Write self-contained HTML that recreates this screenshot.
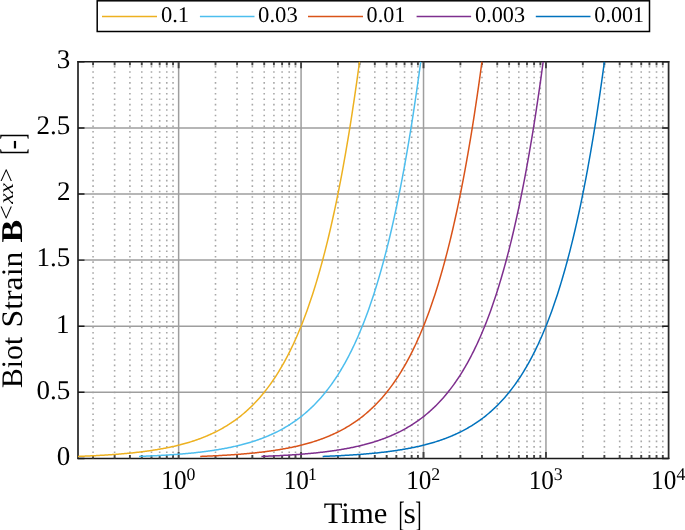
<!DOCTYPE html>
<html><head><meta charset="utf-8"><style>html,body{margin:0;padding:0;background:#fff;}svg{display:block;will-change:transform;}text{text-rendering:geometricPrecision;}</style></head>
<body><svg width="685" height="530" viewBox="0 0 685 530">
<rect x="0" y="0" width="685" height="530" fill="#fff"/>
<path d="M93.06 61.80V458.40M114.62 61.80V458.40M129.92 61.80V458.40M141.78 61.80V458.40M151.48 61.80V458.40M159.67 61.80V458.40M166.77 61.80V458.40M173.04 61.80V458.40M215.50 61.80V458.40M237.06 61.80V458.40M252.36 61.80V458.40M264.22 61.80V458.40M273.92 61.80V458.40M282.11 61.80V458.40M289.21 61.80V458.40M295.48 61.80V458.40M337.94 61.80V458.40M359.50 61.80V458.40M374.80 61.80V458.40M386.66 61.80V458.40M396.36 61.80V458.40M404.55 61.80V458.40M411.65 61.80V458.40M417.92 61.80V458.40M460.38 61.80V458.40M481.94 61.80V458.40M497.24 61.80V458.40M509.10 61.80V458.40M518.80 61.80V458.40M526.99 61.80V458.40M534.09 61.80V458.40M540.36 61.80V458.40M582.82 61.80V458.40M604.38 61.80V458.40M619.68 61.80V458.40M631.54 61.80V458.40M641.24 61.80V458.40M649.43 61.80V458.40M656.53 61.80V458.40M662.80 61.80V458.40" stroke="#a8a8a8" stroke-width="1.6" stroke-dasharray="1.6 3.832" stroke-dashoffset="-4.000" fill="none"/>
<path d="M178.64 61.80V458.40M301.08 61.80V458.40M423.52 61.80V458.40M545.96 61.80V458.40M78.00 392.30H668.60M78.00 326.20H668.60M78.00 260.10H668.60M78.00 194.00H668.60M78.00 127.90H668.60" stroke="#9e9e9e" stroke-width="1.5" fill="none"/>
<path d="M77.20 61.80H669.40M77.20 458.40H669.40" stroke="#1a1a1a" stroke-width="1.45" fill="none"/>
<path d="M78.00 61.10V459.10M668.60 61.10V459.10" stroke="#2a2a2a" stroke-width="1.75" fill="none"/>
<path d="M178.64 458.40v-6.5M178.64 61.80v6.5M301.08 458.40v-6.5M301.08 61.80v6.5M423.52 458.40v-6.5M423.52 61.80v6.5M545.96 458.40v-6.5M545.96 61.80v6.5M93.06 458.40v-3.4M93.06 61.80v3.4M114.62 458.40v-3.4M114.62 61.80v3.4M129.92 458.40v-3.4M129.92 61.80v3.4M141.78 458.40v-3.4M141.78 61.80v3.4M151.48 458.40v-3.4M151.48 61.80v3.4M159.67 458.40v-3.4M159.67 61.80v3.4M166.77 458.40v-3.4M166.77 61.80v3.4M173.04 458.40v-3.4M173.04 61.80v3.4M215.50 458.40v-3.4M215.50 61.80v3.4M237.06 458.40v-3.4M237.06 61.80v3.4M252.36 458.40v-3.4M252.36 61.80v3.4M264.22 458.40v-3.4M264.22 61.80v3.4M273.92 458.40v-3.4M273.92 61.80v3.4M282.11 458.40v-3.4M282.11 61.80v3.4M289.21 458.40v-3.4M289.21 61.80v3.4M295.48 458.40v-3.4M295.48 61.80v3.4M337.94 458.40v-3.4M337.94 61.80v3.4M359.50 458.40v-3.4M359.50 61.80v3.4M374.80 458.40v-3.4M374.80 61.80v3.4M386.66 458.40v-3.4M386.66 61.80v3.4M396.36 458.40v-3.4M396.36 61.80v3.4M404.55 458.40v-3.4M404.55 61.80v3.4M411.65 458.40v-3.4M411.65 61.80v3.4M417.92 458.40v-3.4M417.92 61.80v3.4M460.38 458.40v-3.4M460.38 61.80v3.4M481.94 458.40v-3.4M481.94 61.80v3.4M497.24 458.40v-3.4M497.24 61.80v3.4M509.10 458.40v-3.4M509.10 61.80v3.4M518.80 458.40v-3.4M518.80 61.80v3.4M526.99 458.40v-3.4M526.99 61.80v3.4M534.09 458.40v-3.4M534.09 61.80v3.4M540.36 458.40v-3.4M540.36 61.80v3.4M582.82 458.40v-3.4M582.82 61.80v3.4M604.38 458.40v-3.4M604.38 61.80v3.4M619.68 458.40v-3.4M619.68 61.80v3.4M631.54 458.40v-3.4M631.54 61.80v3.4M641.24 458.40v-3.4M641.24 61.80v3.4M649.43 458.40v-3.4M649.43 61.80v3.4M656.53 458.40v-3.4M656.53 61.80v3.4M662.80 458.40v-3.4M662.80 61.80v3.4" stroke="#444" stroke-width="1.9" fill="none"/>
<path d="M78.00 458.40h6.5M668.60 458.40h-6.5M78.00 392.30h6.5M668.60 392.30h-6.5M78.00 326.20h6.5M668.60 326.20h-6.5M78.00 260.10h6.5M668.60 260.10h-6.5M78.00 194.00h6.5M668.60 194.00h-6.5M78.00 127.90h6.5M668.60 127.90h-6.5M78.00 61.80h6.5M668.60 61.80h-6.5" stroke="#1a1a1a" stroke-width="1.45" fill="none"/>
<defs><clipPath id="c"><rect x="78.0" y="60.8" width="590.6" height="397.59999999999997"/></clipPath></defs>
<polyline clip-path="url(#c)" points="77.76,456.42 78.70,456.38 79.64,456.35 80.58,456.31 81.52,456.27 82.46,456.23 83.40,456.20 84.33,456.16 85.27,456.12 86.21,456.08 87.15,456.03 88.09,455.99 89.03,455.95 89.97,455.91 90.91,455.86 91.85,455.82 92.79,455.77 93.73,455.72 94.66,455.67 95.60,455.63 96.54,455.58 97.48,455.53 98.42,455.48 99.36,455.42 100.30,455.37 101.24,455.32 102.18,455.26 103.12,455.21 104.06,455.15 105.00,455.09 105.93,455.03 106.87,454.97 107.81,454.91 108.75,454.85 109.69,454.79 110.63,454.72 111.57,454.66 112.51,454.59 113.45,454.52 114.39,454.45 115.33,454.38 116.26,454.31 117.20,454.24 118.14,454.16 119.08,454.09 120.02,454.01 120.96,453.93 121.90,453.85 122.84,453.77 123.78,453.69 124.72,453.60 125.66,453.52 126.60,453.43 127.53,453.34 128.47,453.25 129.41,453.16 130.35,453.07 131.29,452.97 132.23,452.88 133.17,452.78 134.11,452.68 135.05,452.58 135.99,452.47 136.93,452.37 137.86,452.26 138.80,452.15 139.74,452.04 140.68,451.93 141.62,451.81 142.56,451.69 143.50,451.57 144.44,451.45 145.38,451.33 146.32,451.20 147.26,451.07 148.20,450.94 149.13,450.81 150.07,450.67 151.01,450.54 151.95,450.40 152.89,450.25 153.83,450.11 154.77,449.96 155.71,449.81 156.65,449.66 157.59,449.50 158.53,449.34 159.46,449.18 160.40,449.02 161.34,448.85 162.28,448.68 163.22,448.51 164.16,448.33 165.10,448.15 166.04,447.97 166.98,447.78 167.92,447.59 168.86,447.40 169.80,447.21 170.73,447.01 171.67,446.80 172.61,446.60 173.55,446.39 174.49,446.17 175.43,445.95 176.37,445.73 177.31,445.51 178.25,445.28 179.19,445.04 180.13,444.81 181.06,444.56 182.00,444.32 182.94,444.07 183.88,443.81 184.82,443.55 185.76,443.29 186.70,443.02 187.64,442.74 188.58,442.46 189.52,442.18 190.46,441.89 191.39,441.60 192.33,441.30 193.27,440.99 194.21,440.68 195.15,440.37 196.09,440.04 197.03,439.72 197.97,439.39 198.91,439.05 199.85,438.70 200.79,438.35 201.73,437.99 202.66,437.63 203.60,437.26 204.54,436.88 205.48,436.50 206.42,436.11 207.36,435.71 208.30,435.31 209.24,434.90 210.18,434.48 211.12,434.05 212.06,433.62 212.99,433.18 213.93,432.73 214.87,432.27 215.81,431.80 216.75,431.33 217.69,430.85 218.63,430.36 219.57,429.86 220.51,429.35 221.45,428.83 222.39,428.30 223.33,427.77 224.26,427.22 225.20,426.67 226.14,426.10 227.08,425.52 228.02,424.94 228.96,424.34 229.90,423.74 230.84,423.12 231.78,422.49 232.72,421.85 233.66,421.20 234.59,420.54 235.53,419.86 236.47,419.17 237.41,418.48 238.35,417.76 239.29,417.04 240.23,416.30 241.17,415.55 242.11,414.79 243.05,414.01 243.99,413.22 244.93,412.42 245.86,411.60 246.80,410.76 247.74,409.91 248.68,409.05 249.62,408.17 250.56,407.28 251.50,406.37 252.44,405.44 253.38,404.49 254.32,403.53 255.26,402.56 256.19,401.56 257.13,400.55 258.07,399.52 259.01,398.47 259.95,397.40 260.89,396.31 261.83,395.21 262.77,394.08 263.71,392.94 264.65,391.77 265.59,390.58 266.53,389.37 267.46,388.14 268.40,386.89 269.34,385.62 270.28,384.32 271.22,383.00 272.16,381.66 273.10,380.29 274.04,378.90 274.98,377.48 275.92,376.04 276.86,374.57 277.79,373.08 278.73,371.56 279.67,370.01 280.61,368.44 281.55,366.83 282.49,365.20 283.43,363.54 284.37,361.85 285.31,360.13 286.25,358.38 287.19,356.60 288.13,354.78 289.06,352.94 290.00,351.06 290.94,349.15 291.88,347.20 292.82,345.22 293.76,343.20 294.70,341.15 295.64,339.06 296.58,336.93 297.52,334.77 298.46,332.57 299.39,330.32 300.33,328.04 301.27,325.72 302.21,323.36 303.15,320.95 304.09,318.50 305.03,316.01 305.97,313.47 306.91,310.89 307.85,308.26 308.79,305.58 309.72,302.86 310.66,300.09 311.60,297.27 312.54,294.40 313.48,291.48 314.42,288.50 315.36,285.47 316.30,282.39 317.24,279.26 318.18,276.07 319.12,272.82 320.06,269.51 320.99,266.14 321.93,262.72 322.87,259.23 323.81,255.68 324.75,252.07 325.69,248.40 326.63,244.65 327.57,240.84 328.51,236.97 329.45,233.02 330.39,229.01 331.32,224.92 332.26,220.76 333.20,216.53 334.14,212.22 335.08,207.83 336.02,203.36 336.96,198.82 337.90,194.20 338.84,189.49 339.78,184.70 340.72,179.82 341.66,174.86 342.59,169.80 343.53,164.66 344.47,159.43 345.41,154.10 346.35,148.68 347.29,143.16 348.23,137.54 349.17,131.83 350.11,126.01 351.05,120.08 351.99,114.06 352.92,107.92 353.86,101.68 354.80,95.32 355.74,88.85 356.68,82.27 357.62,75.56 358.56,68.74 359.50,61.80" stroke="#EDB120" stroke-width="1.5" fill="none" stroke-linejoin="round"/>
<polyline clip-path="url(#c)" points="138.98,456.42 139.92,456.38 140.86,456.35 141.80,456.31 142.74,456.27 143.68,456.23 144.62,456.20 145.55,456.16 146.49,456.12 147.43,456.08 148.37,456.03 149.31,455.99 150.25,455.95 151.19,455.91 152.13,455.86 153.07,455.82 154.01,455.77 154.95,455.72 155.88,455.67 156.82,455.63 157.76,455.58 158.70,455.53 159.64,455.48 160.58,455.42 161.52,455.37 162.46,455.32 163.40,455.26 164.34,455.21 165.28,455.15 166.22,455.09 167.15,455.03 168.09,454.97 169.03,454.91 169.97,454.85 170.91,454.79 171.85,454.72 172.79,454.66 173.73,454.59 174.67,454.52 175.61,454.45 176.55,454.38 177.48,454.31 178.42,454.24 179.36,454.16 180.30,454.09 181.24,454.01 182.18,453.93 183.12,453.85 184.06,453.77 185.00,453.69 185.94,453.60 186.88,453.52 187.82,453.43 188.75,453.34 189.69,453.25 190.63,453.16 191.57,453.07 192.51,452.97 193.45,452.88 194.39,452.78 195.33,452.68 196.27,452.58 197.21,452.47 198.15,452.37 199.08,452.26 200.02,452.15 200.96,452.04 201.90,451.93 202.84,451.81 203.78,451.69 204.72,451.57 205.66,451.45 206.60,451.33 207.54,451.20 208.48,451.07 209.42,450.94 210.35,450.81 211.29,450.67 212.23,450.54 213.17,450.40 214.11,450.25 215.05,450.11 215.99,449.96 216.93,449.81 217.87,449.66 218.81,449.50 219.75,449.34 220.68,449.18 221.62,449.02 222.56,448.85 223.50,448.68 224.44,448.51 225.38,448.33 226.32,448.15 227.26,447.97 228.20,447.78 229.14,447.59 230.08,447.40 231.02,447.21 231.95,447.01 232.89,446.80 233.83,446.60 234.77,446.39 235.71,446.17 236.65,445.95 237.59,445.73 238.53,445.51 239.47,445.28 240.41,445.04 241.35,444.81 242.28,444.56 243.22,444.32 244.16,444.07 245.10,443.81 246.04,443.55 246.98,443.29 247.92,443.02 248.86,442.74 249.80,442.46 250.74,442.18 251.68,441.89 252.61,441.60 253.55,441.30 254.49,440.99 255.43,440.68 256.37,440.37 257.31,440.04 258.25,439.72 259.19,439.39 260.13,439.05 261.07,438.70 262.01,438.35 262.95,437.99 263.88,437.63 264.82,437.26 265.76,436.88 266.70,436.50 267.64,436.11 268.58,435.71 269.52,435.31 270.46,434.90 271.40,434.48 272.34,434.05 273.28,433.62 274.21,433.18 275.15,432.73 276.09,432.27 277.03,431.80 277.97,431.33 278.91,430.85 279.85,430.36 280.79,429.86 281.73,429.35 282.67,428.83 283.61,428.30 284.55,427.77 285.48,427.22 286.42,426.67 287.36,426.10 288.30,425.52 289.24,424.94 290.18,424.34 291.12,423.74 292.06,423.12 293.00,422.49 293.94,421.85 294.88,421.20 295.81,420.54 296.75,419.86 297.69,419.17 298.63,418.48 299.57,417.76 300.51,417.04 301.45,416.30 302.39,415.55 303.33,414.79 304.27,414.01 305.21,413.22 306.15,412.42 307.08,411.60 308.02,410.76 308.96,409.91 309.90,409.05 310.84,408.17 311.78,407.28 312.72,406.37 313.66,405.44 314.60,404.49 315.54,403.53 316.48,402.56 317.41,401.56 318.35,400.55 319.29,399.52 320.23,398.47 321.17,397.40 322.11,396.31 323.05,395.21 323.99,394.08 324.93,392.94 325.87,391.77 326.81,390.58 327.75,389.37 328.68,388.14 329.62,386.89 330.56,385.62 331.50,384.32 332.44,383.00 333.38,381.66 334.32,380.29 335.26,378.90 336.20,377.48 337.14,376.04 338.08,374.57 339.01,373.08 339.95,371.56 340.89,370.01 341.83,368.44 342.77,366.83 343.71,365.20 344.65,363.54 345.59,361.85 346.53,360.13 347.47,358.38 348.41,356.60 349.35,354.78 350.28,352.94 351.22,351.06 352.16,349.15 353.10,347.20 354.04,345.22 354.98,343.20 355.92,341.15 356.86,339.06 357.80,336.93 358.74,334.77 359.68,332.57 360.61,330.32 361.55,328.04 362.49,325.72 363.43,323.36 364.37,320.95 365.31,318.50 366.25,316.01 367.19,313.47 368.13,310.89 369.07,308.26 370.01,305.58 370.94,302.86 371.88,300.09 372.82,297.27 373.76,294.40 374.70,291.48 375.64,288.50 376.58,285.47 377.52,282.39 378.46,279.26 379.40,276.07 380.34,272.82 381.28,269.51 382.21,266.14 383.15,262.72 384.09,259.23 385.03,255.68 385.97,252.07 386.91,248.40 387.85,244.65 388.79,240.84 389.73,236.97 390.67,233.02 391.61,229.01 392.54,224.92 393.48,220.76 394.42,216.53 395.36,212.22 396.30,207.83 397.24,203.36 398.18,198.82 399.12,194.20 400.06,189.49 401.00,184.70 401.94,179.82 402.88,174.86 403.81,169.80 404.75,164.66 405.69,159.43 406.63,154.10 407.57,148.68 408.51,143.16 409.45,137.54 410.39,131.83 411.33,126.01 412.27,120.08 413.21,114.06 414.14,107.92 415.08,101.68 416.02,95.32 416.96,88.85 417.90,82.27 418.84,75.56 419.78,68.74 420.72,61.80" stroke="#4DBEEE" stroke-width="1.5" fill="none" stroke-linejoin="round"/>
<polyline clip-path="url(#c)" points="200.20,456.42 201.14,456.38 202.08,456.35 203.02,456.31 203.96,456.27 204.90,456.23 205.84,456.20 206.77,456.16 207.71,456.12 208.65,456.08 209.59,456.03 210.53,455.99 211.47,455.95 212.41,455.91 213.35,455.86 214.29,455.82 215.23,455.77 216.17,455.72 217.10,455.67 218.04,455.63 218.98,455.58 219.92,455.53 220.86,455.48 221.80,455.42 222.74,455.37 223.68,455.32 224.62,455.26 225.56,455.21 226.50,455.15 227.44,455.09 228.37,455.03 229.31,454.97 230.25,454.91 231.19,454.85 232.13,454.79 233.07,454.72 234.01,454.66 234.95,454.59 235.89,454.52 236.83,454.45 237.77,454.38 238.70,454.31 239.64,454.24 240.58,454.16 241.52,454.09 242.46,454.01 243.40,453.93 244.34,453.85 245.28,453.77 246.22,453.69 247.16,453.60 248.10,453.52 249.04,453.43 249.97,453.34 250.91,453.25 251.85,453.16 252.79,453.07 253.73,452.97 254.67,452.88 255.61,452.78 256.55,452.68 257.49,452.58 258.43,452.47 259.37,452.37 260.30,452.26 261.24,452.15 262.18,452.04 263.12,451.93 264.06,451.81 265.00,451.69 265.94,451.57 266.88,451.45 267.82,451.33 268.76,451.20 269.70,451.07 270.64,450.94 271.57,450.81 272.51,450.67 273.45,450.54 274.39,450.40 275.33,450.25 276.27,450.11 277.21,449.96 278.15,449.81 279.09,449.66 280.03,449.50 280.97,449.34 281.90,449.18 282.84,449.02 283.78,448.85 284.72,448.68 285.66,448.51 286.60,448.33 287.54,448.15 288.48,447.97 289.42,447.78 290.36,447.59 291.30,447.40 292.24,447.21 293.17,447.01 294.11,446.80 295.05,446.60 295.99,446.39 296.93,446.17 297.87,445.95 298.81,445.73 299.75,445.51 300.69,445.28 301.63,445.04 302.57,444.81 303.50,444.56 304.44,444.32 305.38,444.07 306.32,443.81 307.26,443.55 308.20,443.29 309.14,443.02 310.08,442.74 311.02,442.46 311.96,442.18 312.90,441.89 313.83,441.60 314.77,441.30 315.71,440.99 316.65,440.68 317.59,440.37 318.53,440.04 319.47,439.72 320.41,439.39 321.35,439.05 322.29,438.70 323.23,438.35 324.17,437.99 325.10,437.63 326.04,437.26 326.98,436.88 327.92,436.50 328.86,436.11 329.80,435.71 330.74,435.31 331.68,434.90 332.62,434.48 333.56,434.05 334.50,433.62 335.43,433.18 336.37,432.73 337.31,432.27 338.25,431.80 339.19,431.33 340.13,430.85 341.07,430.36 342.01,429.86 342.95,429.35 343.89,428.83 344.83,428.30 345.77,427.77 346.70,427.22 347.64,426.67 348.58,426.10 349.52,425.52 350.46,424.94 351.40,424.34 352.34,423.74 353.28,423.12 354.22,422.49 355.16,421.85 356.10,421.20 357.03,420.54 357.97,419.86 358.91,419.17 359.85,418.48 360.79,417.76 361.73,417.04 362.67,416.30 363.61,415.55 364.55,414.79 365.49,414.01 366.43,413.22 367.37,412.42 368.30,411.60 369.24,410.76 370.18,409.91 371.12,409.05 372.06,408.17 373.00,407.28 373.94,406.37 374.88,405.44 375.82,404.49 376.76,403.53 377.70,402.56 378.63,401.56 379.57,400.55 380.51,399.52 381.45,398.47 382.39,397.40 383.33,396.31 384.27,395.21 385.21,394.08 386.15,392.94 387.09,391.77 388.03,390.58 388.97,389.37 389.90,388.14 390.84,386.89 391.78,385.62 392.72,384.32 393.66,383.00 394.60,381.66 395.54,380.29 396.48,378.90 397.42,377.48 398.36,376.04 399.30,374.57 400.23,373.08 401.17,371.56 402.11,370.01 403.05,368.44 403.99,366.83 404.93,365.20 405.87,363.54 406.81,361.85 407.75,360.13 408.69,358.38 409.63,356.60 410.57,354.78 411.50,352.94 412.44,351.06 413.38,349.15 414.32,347.20 415.26,345.22 416.20,343.20 417.14,341.15 418.08,339.06 419.02,336.93 419.96,334.77 420.90,332.57 421.83,330.32 422.77,328.04 423.71,325.72 424.65,323.36 425.59,320.95 426.53,318.50 427.47,316.01 428.41,313.47 429.35,310.89 430.29,308.26 431.23,305.58 432.16,302.86 433.10,300.09 434.04,297.27 434.98,294.40 435.92,291.48 436.86,288.50 437.80,285.47 438.74,282.39 439.68,279.26 440.62,276.07 441.56,272.82 442.50,269.51 443.43,266.14 444.37,262.72 445.31,259.23 446.25,255.68 447.19,252.07 448.13,248.40 449.07,244.65 450.01,240.84 450.95,236.97 451.89,233.02 452.83,229.01 453.76,224.92 454.70,220.76 455.64,216.53 456.58,212.22 457.52,207.83 458.46,203.36 459.40,198.82 460.34,194.20 461.28,189.49 462.22,184.70 463.16,179.82 464.10,174.86 465.03,169.80 465.97,164.66 466.91,159.43 467.85,154.10 468.79,148.68 469.73,143.16 470.67,137.54 471.61,131.83 472.55,126.01 473.49,120.08 474.43,114.06 475.36,107.92 476.30,101.68 477.24,95.32 478.18,88.85 479.12,82.27 480.06,75.56 481.00,68.74 481.94,61.80" stroke="#D95319" stroke-width="1.5" fill="none" stroke-linejoin="round"/>
<polyline clip-path="url(#c)" points="261.42,456.42 262.36,456.38 263.30,456.35 264.24,456.31 265.18,456.27 266.12,456.23 267.06,456.20 267.99,456.16 268.93,456.12 269.87,456.08 270.81,456.03 271.75,455.99 272.69,455.95 273.63,455.91 274.57,455.86 275.51,455.82 276.45,455.77 277.39,455.72 278.32,455.67 279.26,455.63 280.20,455.58 281.14,455.53 282.08,455.48 283.02,455.42 283.96,455.37 284.90,455.32 285.84,455.26 286.78,455.21 287.72,455.15 288.66,455.09 289.59,455.03 290.53,454.97 291.47,454.91 292.41,454.85 293.35,454.79 294.29,454.72 295.23,454.66 296.17,454.59 297.11,454.52 298.05,454.45 298.99,454.38 299.92,454.31 300.86,454.24 301.80,454.16 302.74,454.09 303.68,454.01 304.62,453.93 305.56,453.85 306.50,453.77 307.44,453.69 308.38,453.60 309.32,453.52 310.26,453.43 311.19,453.34 312.13,453.25 313.07,453.16 314.01,453.07 314.95,452.97 315.89,452.88 316.83,452.78 317.77,452.68 318.71,452.58 319.65,452.47 320.59,452.37 321.52,452.26 322.46,452.15 323.40,452.04 324.34,451.93 325.28,451.81 326.22,451.69 327.16,451.57 328.10,451.45 329.04,451.33 329.98,451.20 330.92,451.07 331.86,450.94 332.79,450.81 333.73,450.67 334.67,450.54 335.61,450.40 336.55,450.25 337.49,450.11 338.43,449.96 339.37,449.81 340.31,449.66 341.25,449.50 342.19,449.34 343.12,449.18 344.06,449.02 345.00,448.85 345.94,448.68 346.88,448.51 347.82,448.33 348.76,448.15 349.70,447.97 350.64,447.78 351.58,447.59 352.52,447.40 353.46,447.21 354.39,447.01 355.33,446.80 356.27,446.60 357.21,446.39 358.15,446.17 359.09,445.95 360.03,445.73 360.97,445.51 361.91,445.28 362.85,445.04 363.79,444.81 364.72,444.56 365.66,444.32 366.60,444.07 367.54,443.81 368.48,443.55 369.42,443.29 370.36,443.02 371.30,442.74 372.24,442.46 373.18,442.18 374.12,441.89 375.05,441.60 375.99,441.30 376.93,440.99 377.87,440.68 378.81,440.37 379.75,440.04 380.69,439.72 381.63,439.39 382.57,439.05 383.51,438.70 384.45,438.35 385.39,437.99 386.32,437.63 387.26,437.26 388.20,436.88 389.14,436.50 390.08,436.11 391.02,435.71 391.96,435.31 392.90,434.90 393.84,434.48 394.78,434.05 395.72,433.62 396.65,433.18 397.59,432.73 398.53,432.27 399.47,431.80 400.41,431.33 401.35,430.85 402.29,430.36 403.23,429.86 404.17,429.35 405.11,428.83 406.05,428.30 406.99,427.77 407.92,427.22 408.86,426.67 409.80,426.10 410.74,425.52 411.68,424.94 412.62,424.34 413.56,423.74 414.50,423.12 415.44,422.49 416.38,421.85 417.32,421.20 418.25,420.54 419.19,419.86 420.13,419.17 421.07,418.48 422.01,417.76 422.95,417.04 423.89,416.30 424.83,415.55 425.77,414.79 426.71,414.01 427.65,413.22 428.59,412.42 429.52,411.60 430.46,410.76 431.40,409.91 432.34,409.05 433.28,408.17 434.22,407.28 435.16,406.37 436.10,405.44 437.04,404.49 437.98,403.53 438.92,402.56 439.85,401.56 440.79,400.55 441.73,399.52 442.67,398.47 443.61,397.40 444.55,396.31 445.49,395.21 446.43,394.08 447.37,392.94 448.31,391.77 449.25,390.58 450.19,389.37 451.12,388.14 452.06,386.89 453.00,385.62 453.94,384.32 454.88,383.00 455.82,381.66 456.76,380.29 457.70,378.90 458.64,377.48 459.58,376.04 460.52,374.57 461.45,373.08 462.39,371.56 463.33,370.01 464.27,368.44 465.21,366.83 466.15,365.20 467.09,363.54 468.03,361.85 468.97,360.13 469.91,358.38 470.85,356.60 471.79,354.78 472.72,352.94 473.66,351.06 474.60,349.15 475.54,347.20 476.48,345.22 477.42,343.20 478.36,341.15 479.30,339.06 480.24,336.93 481.18,334.77 482.12,332.57 483.05,330.32 483.99,328.04 484.93,325.72 485.87,323.36 486.81,320.95 487.75,318.50 488.69,316.01 489.63,313.47 490.57,310.89 491.51,308.26 492.45,305.58 493.38,302.86 494.32,300.09 495.26,297.27 496.20,294.40 497.14,291.48 498.08,288.50 499.02,285.47 499.96,282.39 500.90,279.26 501.84,276.07 502.78,272.82 503.72,269.51 504.65,266.14 505.59,262.72 506.53,259.23 507.47,255.68 508.41,252.07 509.35,248.40 510.29,244.65 511.23,240.84 512.17,236.97 513.11,233.02 514.05,229.01 514.98,224.92 515.92,220.76 516.86,216.53 517.80,212.22 518.74,207.83 519.68,203.36 520.62,198.82 521.56,194.20 522.50,189.49 523.44,184.70 524.38,179.82 525.32,174.86 526.25,169.80 527.19,164.66 528.13,159.43 529.07,154.10 530.01,148.68 530.95,143.16 531.89,137.54 532.83,131.83 533.77,126.01 534.71,120.08 535.65,114.06 536.58,107.92 537.52,101.68 538.46,95.32 539.40,88.85 540.34,82.27 541.28,75.56 542.22,68.74 543.16,61.80" stroke="#7E2F8E" stroke-width="1.5" fill="none" stroke-linejoin="round"/>
<polyline clip-path="url(#c)" points="322.64,456.42 323.58,456.38 324.52,456.35 325.46,456.31 326.40,456.27 327.34,456.23 328.28,456.20 329.21,456.16 330.15,456.12 331.09,456.08 332.03,456.03 332.97,455.99 333.91,455.95 334.85,455.91 335.79,455.86 336.73,455.82 337.67,455.77 338.61,455.72 339.54,455.67 340.48,455.63 341.42,455.58 342.36,455.53 343.30,455.48 344.24,455.42 345.18,455.37 346.12,455.32 347.06,455.26 348.00,455.21 348.94,455.15 349.88,455.09 350.81,455.03 351.75,454.97 352.69,454.91 353.63,454.85 354.57,454.79 355.51,454.72 356.45,454.66 357.39,454.59 358.33,454.52 359.27,454.45 360.21,454.38 361.14,454.31 362.08,454.24 363.02,454.16 363.96,454.09 364.90,454.01 365.84,453.93 366.78,453.85 367.72,453.77 368.66,453.69 369.60,453.60 370.54,453.52 371.48,453.43 372.41,453.34 373.35,453.25 374.29,453.16 375.23,453.07 376.17,452.97 377.11,452.88 378.05,452.78 378.99,452.68 379.93,452.58 380.87,452.47 381.81,452.37 382.74,452.26 383.68,452.15 384.62,452.04 385.56,451.93 386.50,451.81 387.44,451.69 388.38,451.57 389.32,451.45 390.26,451.33 391.20,451.20 392.14,451.07 393.08,450.94 394.01,450.81 394.95,450.67 395.89,450.54 396.83,450.40 397.77,450.25 398.71,450.11 399.65,449.96 400.59,449.81 401.53,449.66 402.47,449.50 403.41,449.34 404.34,449.18 405.28,449.02 406.22,448.85 407.16,448.68 408.10,448.51 409.04,448.33 409.98,448.15 410.92,447.97 411.86,447.78 412.80,447.59 413.74,447.40 414.68,447.21 415.61,447.01 416.55,446.80 417.49,446.60 418.43,446.39 419.37,446.17 420.31,445.95 421.25,445.73 422.19,445.51 423.13,445.28 424.07,445.04 425.01,444.81 425.94,444.56 426.88,444.32 427.82,444.07 428.76,443.81 429.70,443.55 430.64,443.29 431.58,443.02 432.52,442.74 433.46,442.46 434.40,442.18 435.34,441.89 436.27,441.60 437.21,441.30 438.15,440.99 439.09,440.68 440.03,440.37 440.97,440.04 441.91,439.72 442.85,439.39 443.79,439.05 444.73,438.70 445.67,438.35 446.61,437.99 447.54,437.63 448.48,437.26 449.42,436.88 450.36,436.50 451.30,436.11 452.24,435.71 453.18,435.31 454.12,434.90 455.06,434.48 456.00,434.05 456.94,433.62 457.87,433.18 458.81,432.73 459.75,432.27 460.69,431.80 461.63,431.33 462.57,430.85 463.51,430.36 464.45,429.86 465.39,429.35 466.33,428.83 467.27,428.30 468.21,427.77 469.14,427.22 470.08,426.67 471.02,426.10 471.96,425.52 472.90,424.94 473.84,424.34 474.78,423.74 475.72,423.12 476.66,422.49 477.60,421.85 478.54,421.20 479.47,420.54 480.41,419.86 481.35,419.17 482.29,418.48 483.23,417.76 484.17,417.04 485.11,416.30 486.05,415.55 486.99,414.79 487.93,414.01 488.87,413.22 489.81,412.42 490.74,411.60 491.68,410.76 492.62,409.91 493.56,409.05 494.50,408.17 495.44,407.28 496.38,406.37 497.32,405.44 498.26,404.49 499.20,403.53 500.14,402.56 501.07,401.56 502.01,400.55 502.95,399.52 503.89,398.47 504.83,397.40 505.77,396.31 506.71,395.21 507.65,394.08 508.59,392.94 509.53,391.77 510.47,390.58 511.41,389.37 512.34,388.14 513.28,386.89 514.22,385.62 515.16,384.32 516.10,383.00 517.04,381.66 517.98,380.29 518.92,378.90 519.86,377.48 520.80,376.04 521.74,374.57 522.67,373.08 523.61,371.56 524.55,370.01 525.49,368.44 526.43,366.83 527.37,365.20 528.31,363.54 529.25,361.85 530.19,360.13 531.13,358.38 532.07,356.60 533.01,354.78 533.94,352.94 534.88,351.06 535.82,349.15 536.76,347.20 537.70,345.22 538.64,343.20 539.58,341.15 540.52,339.06 541.46,336.93 542.40,334.77 543.34,332.57 544.27,330.32 545.21,328.04 546.15,325.72 547.09,323.36 548.03,320.95 548.97,318.50 549.91,316.01 550.85,313.47 551.79,310.89 552.73,308.26 553.67,305.58 554.60,302.86 555.54,300.09 556.48,297.27 557.42,294.40 558.36,291.48 559.30,288.50 560.24,285.47 561.18,282.39 562.12,279.26 563.06,276.07 564.00,272.82 564.94,269.51 565.87,266.14 566.81,262.72 567.75,259.23 568.69,255.68 569.63,252.07 570.57,248.40 571.51,244.65 572.45,240.84 573.39,236.97 574.33,233.02 575.27,229.01 576.20,224.92 577.14,220.76 578.08,216.53 579.02,212.22 579.96,207.83 580.90,203.36 581.84,198.82 582.78,194.20 583.72,189.49 584.66,184.70 585.60,179.82 586.54,174.86 587.47,169.80 588.41,164.66 589.35,159.43 590.29,154.10 591.23,148.68 592.17,143.16 593.11,137.54 594.05,131.83 594.99,126.01 595.93,120.08 596.87,114.06 597.80,107.92 598.74,101.68 599.68,95.32 600.62,88.85 601.56,82.27 602.50,75.56 603.44,68.74 604.38,61.80" stroke="#0072BD" stroke-width="1.5" fill="none" stroke-linejoin="round"/>
<text transform="translate(56.63,464.75)" font-family="Liberation Serif" font-size="27.0" fill="#000">0</text>
<text transform="translate(36.40,398.65)" font-family="Liberation Serif" font-size="27.0" fill="#000">0.5</text>
<text transform="translate(56.02,332.55)" font-family="Liberation Serif" font-size="27.0" fill="#000">1</text>
<text transform="translate(36.40,266.45)" font-family="Liberation Serif" font-size="27.0" fill="#000">1.5</text>
<text transform="translate(57.09,200.35)" font-family="Liberation Serif" font-size="27.0" fill="#000">2</text>
<text transform="translate(36.40,134.25)" font-family="Liberation Serif" font-size="27.0" fill="#000">2.5</text>
<text transform="translate(56.65,68.15)" font-family="Liberation Serif" font-size="27.0" fill="#000">3</text>
<text transform="translate(161.32,488.70) scale(0.9344,1.0000)" font-family="Liberation Serif" font-size="27.0" fill="#000">10</text>
<text transform="translate(186.51,479.90)" font-family="Liberation Serif" font-size="17.8" fill="#000">0</text>
<text transform="translate(283.76,488.70) scale(0.9344,1.0000)" font-family="Liberation Serif" font-size="27.0" fill="#000">10</text>
<text transform="translate(308.07,479.90)" font-family="Liberation Serif" font-size="17.8" fill="#000">1</text>
<text transform="translate(406.20,488.70) scale(0.9344,1.0000)" font-family="Liberation Serif" font-size="27.0" fill="#000">10</text>
<text transform="translate(431.29,479.90)" font-family="Liberation Serif" font-size="17.8" fill="#000">2</text>
<text transform="translate(528.64,488.70) scale(0.9344,1.0000)" font-family="Liberation Serif" font-size="27.0" fill="#000">10</text>
<text transform="translate(553.66,479.90)" font-family="Liberation Serif" font-size="17.8" fill="#000">3</text>
<text transform="translate(651.08,488.70) scale(0.9344,1.0000)" font-family="Liberation Serif" font-size="27.0" fill="#000">10</text>
<text transform="translate(676.60,479.90)" font-family="Liberation Serif" font-size="17.8" fill="#000">4</text>
<rect x="97.2" y="0.8" width="552.3" height="30.7" fill="none" stroke="#000" stroke-width="1.5"/>
<path d="M102 16.4H157" stroke="#EDB120" stroke-width="1.5"/>
<text transform="translate(160.94,21.70) scale(1.0077,1.0000)" font-family="Liberation Serif" font-size="22.4" fill="#000">0.1</text>
<path d="M199.9 16.4H254.5" stroke="#4DBEEE" stroke-width="1.5"/>
<text transform="translate(258.03,21.70) scale(1.0141,1.0000)" font-family="Liberation Serif" font-size="22.4" fill="#000">0.03</text>
<path d="M308 16.4H363" stroke="#D95319" stroke-width="1.5"/>
<text transform="translate(366.56,21.70) scale(0.9891,1.0000)" font-family="Liberation Serif" font-size="22.4" fill="#000">0.01</text>
<path d="M416.6 16.4H471.1" stroke="#7E2F8E" stroke-width="1.5"/>
<text transform="translate(475.05,21.70) scale(0.9924,1.0000)" font-family="Liberation Serif" font-size="22.4" fill="#000">0.003</text>
<path d="M535.8 16.4H590.5" stroke="#0072BD" stroke-width="1.5"/>
<text transform="translate(594.36,21.70) scale(0.9854,1.0000)" font-family="Liberation Serif" font-size="22.4" fill="#000">0.001</text>
<text transform="translate(323.75,522.70) scale(1.0274,1.0000)" font-family="Liberation Serif" font-size="29.8" fill="#000">Time</text>
<text transform="translate(398.43,525.80) scale(0.6179,1.1830)" font-family="Liberation Serif" font-size="29.8" fill="#000">[</text>
<text transform="translate(403.50,522.70) scale(1.0648,1.0000)" font-family="Liberation Serif" font-size="29.8" fill="#000">s</text>
<text transform="translate(415.32,525.80) scale(0.6330,1.1830)" font-family="Liberation Serif" font-size="29.8" fill="#000">]</text>
<text transform="translate(21.90,387.10) rotate(-90) translate(-0.86,0) scale(0.9960,1.0000)" font-family="Liberation Serif" font-size="29.8" fill="#000">Biot</text>
<text transform="translate(21.90,325.30) rotate(-90) translate(-2.12,0) scale(1.0635,1.0000)" font-family="Liberation Serif" font-size="29.8" fill="#000">Strain</text>
<text transform="translate(22.00,241.90) rotate(-90) translate(-0.56,0) scale(1.1223,1.0000)" font-family="Liberation Serif" font-weight="bold" font-size="30.2" fill="#000">B</text>
<text transform="translate(14.35,218.50) rotate(-90) translate(-1.27,0) scale(1.0882,1.0000)" font-family="Liberation Serif" font-size="23.5" fill="#000">&lt;</text>
<text transform="translate(12.60,204.10) rotate(-90) translate(0.28,0) scale(1.1043,1.0000)" font-family="Liberation Serif" font-style="italic" font-size="21.0" fill="#000">xx</text>
<text transform="translate(14.35,180.90) rotate(-90) translate(-1.27,0) scale(1.0654,1.0000)" font-family="Liberation Serif" font-size="23.5" fill="#000">&gt;</text>
<text transform="translate(24.10,153.10) rotate(-90) translate(-1.33,0) scale(0.6028,1.1510)" font-family="Liberation Serif" font-size="29.8" fill="#000">[</text>
<text transform="translate(21.90,148.50) rotate(-90) translate(-1.07,0) scale(0.9689,1.0000)" font-family="Liberation Serif" font-size="29.8" fill="#000">-</text>
<text transform="translate(24.10,138.90) rotate(-90) translate(-0.65,0) scale(0.6028,1.1510)" font-family="Liberation Serif" font-size="29.8" fill="#000">]</text>
</svg></body></html>
